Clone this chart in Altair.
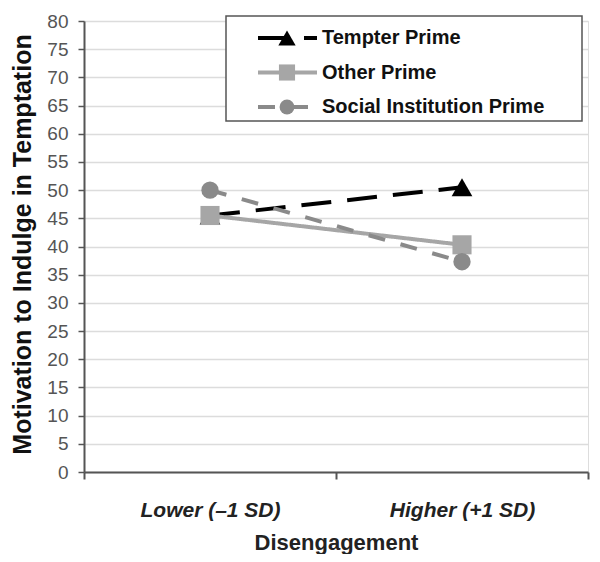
import altair as alt
import pandas as pd

categories = ["Lower (\u20131 SD)", "Higher (+1 SD)"]
series = ["Tempter Prime", "Other Prime", "Social Institution Prime"]
tempter = [45.5, 50.5]
other = [45.5, 40.3]
social = [50.0, 37.3]

rows = []
for name, vals in zip(series, [tempter, other, social]):
    for c, v in zip(categories, vals):
        rows.append({"Disengagement": c, "Series": name, "Value": v})
df = pd.DataFrame(rows)
legend_df = pd.DataFrame({"Series": series, "idx": list(range(len(series)))})

FONT = "Liberation Sans"
colors = ["#000000", "#a6a6a6", "#8a8a8a"]
dashes = [[30, 16], [1, 0], [17, 16]]
shapes = ["triangle-up", "square", "circle"]

x = alt.X("Disengagement:N", sort=categories, title="Disengagement",
          scale=alt.Scale(paddingInner=0, paddingOuter=0),
          axis=alt.Axis(tickBand="extent", labelAngle=0, labelFont=FONT, labelFontSize=21,
                        labelFontWeight="bold", labelFontStyle="italic", labelColor="#222",
                        labelPadding=20, titleFont=FONT, titleFontSize=22, titleFontWeight="bold",
                        titleColor="#222", titlePadding=12, domainColor="#555", domainWidth=2,
                        tickColor="#555", tickWidth=2, tickSize=7, grid=False))
y = alt.Y("Value:Q", title="Motivation to Indulge in Temptation",
          scale=alt.Scale(domain=[0, 80], nice=False),
          axis=alt.Axis(values=list(range(0, 81, 5)), labelFont=FONT, labelFontSize=19,
                        labelColor="#555", labelPadding=10, titleFont=FONT, titleFontSize=25,
                        titleFontWeight="bold", titleColor="#111", titleX=-49, titleY=223,
                        domainColor="#555", domainWidth=2, tickColor="#555", tickWidth=1.5,
                        tickSize=6, gridColor="#dcdcdc", gridWidth=1.5))

color = alt.Color("Series:N", sort=series, scale=alt.Scale(domain=series, range=colors),
                  legend=None)
dash = alt.StrokeDash("Series:N", sort=series, scale=alt.Scale(domain=series, range=dashes),
                      legend=None)
shape = alt.Shape("Series:N", sort=series, scale=alt.Scale(domain=series, range=shapes),
                  legend=None)
size = alt.Size("Series:N", sort=series, scale=alt.Scale(domain=series, range=[430, 300, 300]),
                legend=None)

base = alt.Chart(df)
lines = base.mark_line(strokeWidth=4).encode(x=x, y=y, color=color, strokeDash=dash)
points = base.mark_point(filled=True, opacity=1).encode(x=x, y=y, color=color, shape=shape,
                                                         size=size)
main = alt.layer(lines, points)

# legend (manual, drawn from the series list)
leg_y = alt.Y("idx:O", axis=None, scale=alt.Scale(type="point", range=[17, 86], padding=0))
leg = alt.Chart(legend_df)
leg_box = alt.Chart(pd.DataFrame({"b": [0]})).mark_rect(
    fill="white", stroke="#555", strokeWidth=1.5).encode(
    x=alt.value(142), x2=alt.value(498), y=alt.value(-5), y2=alt.value(100))
leg_lines = leg.mark_rule(strokeWidth=4).encode(
    x=alt.value(174), x2=alt.value(233), y=leg_y, color=color,
    strokeDash=alt.StrokeDash("Series:N", sort=series,
                              scale=alt.Scale(domain=series, range=[[22, 8], [1, 0], [14, 12]]),
                              legend=None))
leg_pts = leg.mark_point(filled=True, opacity=1).encode(
    x=alt.value(203), y=leg_y, color=color, shape=shape,
    size=alt.Size("Series:N", sort=series, scale=alt.Scale(domain=series, range=[300, 220, 220]),
                  legend=None))
leg_text = leg.mark_text(align="left", baseline="middle", font=FONT, fontSize=20,
                         fontWeight="bold", color="#111").encode(
    x=alt.value(238), y=leg_y, text="Series:N")

legend_layer = alt.layer(leg_box, leg_lines, leg_pts, leg_text)

chart = alt.layer(main, legend_layer).resolve_scale(y="independent", size="independent").properties(
    width=504, height=451,
    autosize=alt.AutoSizeParams(type="none"),
    padding={"left": 76, "top": 13, "right": 4, "bottom": 82},
).configure_view(stroke=None).configure(background="white")

chart.save("out.html", embed_options={"renderer": "svg", "actions": False})
